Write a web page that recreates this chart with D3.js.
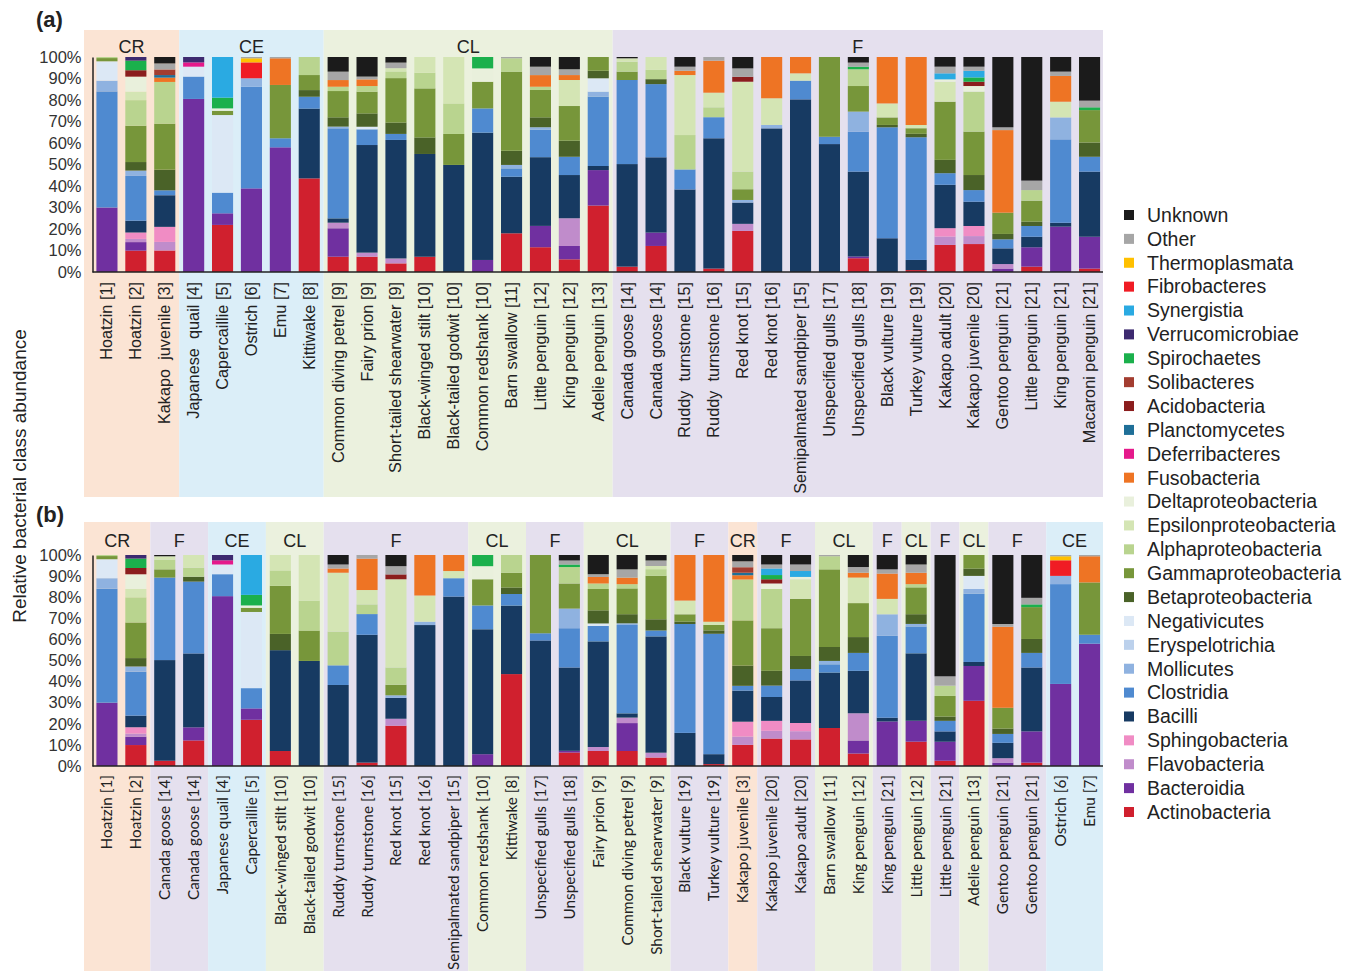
<!DOCTYPE html>
<html>
<head>
<meta charset="utf-8">
<script src="https://cdn.jsdelivr.net/npm/d3@7"></script>
<style>
  body { margin: 0; background: #fff; }
  svg { display: block; }
</style>
</head>
<body>
<svg id="chart" width="1357" height="971"></svg>
<script>
// Bacterial classes, stacked from the bottom of each bar upwards
const classKeys = ["Act","Bac","Fla","Sph","Bcl","Clo","Mol","Ery","Neg","Bet","Gam","Alp","Eps","Del",
                   "Fus","Def","Pla","Aci","Sol","Spi","Ver","Syn","Fib","The","Oth","Unk"];
const classNames = ["Actinobacteria","Bacteroidia","Flavobacteria","Sphingobacteria","Bacilli","Clostridia",
                    "Mollicutes","Eryspelotrichia","Negativicutes","Betaproteobacteria","Gammaproteobacteria",
                    "Alphaproteobacteria","Epsilonproteobacteria","Deltaproteobacteria","Fusobacteria",
                    "Deferribacteres","Planctomycetes","Acidobacteria","Solibacteres","Spirochaetes",
                    "Verrucomicrobiae","Synergistia","Fibrobacteres","Thermoplasmata","Other","Unknown"];
const classColors = ["#d0202e","#7030a0","#c08ccb","#f08cc4","#173a62","#4f8ad0",
                     "#8fb2e0","#bcd1ec","#dce8f5","#4a6228","#77963a",
                     "#b9d48f","#d4e5b4","#e9f0dc","#ee7424",
                     "#e5198b","#1f6f98","#8b1d1d","#a33d30","#1bb04c",
                     "#3d2a70","#2aaae2","#f01c24","#ffc000","#a6a6a6","#1b1b1b"];

// Samples (host species [reference]) and their class composition, in %
const sampleLabels = ["Hoatzin [1]","Hoatzin [2]","Kakapo  juvenile [3]","Japanese  quail [4]","Capercaillie [5]",
  "Ostrich [6]","Emu [7]","Kittiwake [8]","Common diving petrel [9]","Fairy prion [9]",
  "Short-tailed shearwater [9]","Black-winged stilt [10]","Black-tailed godwit [10]","Common redshank [10]",
  "Barn swallow [11]","Little penguin [12]","King penguin [12]","Adelie penguin [13]","Canada goose [14]",
  "Canada goose [14]","Ruddy  turnstone [15]","Ruddy  turnstone [16]","Red knot [15]","Red knot [16]",
  "Semipalmated sandpiper [15]","Unspecified gulls [17]","Unspecified gulls [18]","Black vulture [19]",
  "Turkey vulture [19]","Kakapo adult [20]","Kakapo juvenile [20]","Gentoo penguin [21]",
  "Little penguin [21]","King penguin [21]","Macaroni penguin [21]"];

const sampleValues = [
  {Bac:30, Clo:54, Mol:5, Neg:9, Gam:1.5, Alp:0.5},
  {Act:10, Bac:4, Fla:1.5, Sph:3, Bcl:5.5, Clo:21, Mol:2.5, Bet:4, Gam:17, Alp:12, Eps:4, Del:7, Aci:3, Spi:4.5, Ver:1.7},
  {Act:10, Fla:4, Sph:7, Bcl:14.7, Clo:2.3, Bet:9.6, Gam:21.4, Alp:19.4, Fus:2, Pla:1.2, Sol:2.6, Oth:2.8, Unk:3},
  {Bac:80.5, Clo:10.4, Neg:4.6, Def:2, Ver:2.5},
  {Act:21.9, Bac:5.4, Clo:9.6, Neg:36.1, Gam:2, Del:1.1, Spi:5, Syn:18.9},
  {Bac:38.9, Clo:47.3, Mol:3.9, Fib:7.4, The:1.9, Oth:0.6},
  {Bac:58, Clo:4.2, Gam:24.8, Fus:12.4, Oth:0.6},
  {Act:43.6, Bcl:32.5, Clo:5.5, Bet:3.1, Gam:7, Alp:8.4},
  {Act:7.1, Bac:13.2, Fla:2.6, Bcl:2, Clo:41.8, Mol:0.8, Bet:4.3, Gam:12.2, Alp:2, Fus:3.1, Oth:3.9, Unk:6.8},
  {Act:7.1, Fla:1.9, Bcl:50, Clo:7.3, Neg:1.2, Bet:6.2, Gam:10.1, Alp:2.6, Fus:3.1, Oth:1.3, Unk:9.1},
  {Act:4, Fla:2.3, Bcl:55, Clo:2.8, Bet:5.3, Gam:20.6, Alp:3.1, Eps:1.5, Oth:2.6, Unk:2.6},
  {Act:7.1, Bcl:47.8, Bet:7.7, Gam:22.8, Alp:7.3, Eps:7.3},
  {Bcl:49.8, Gam:14.4, Alp:14.2, Eps:21.6},
  {Bac:5.6, Bcl:59.2, Clo:11.3, Gam:12.4, Del:6.2, Spi:5.3},
  {Act:18, Bcl:26.3, Clo:3.9, Mol:1.6, Bet:6.6, Gam:36.8, Alp:6.2, Oth:0.6},
  {Act:11.5, Bac:9.9, Bcl:31.9, Clo:12.7, Mol:1.2, Bet:4.6, Gam:12.7, Alp:1.5, Fus:5.4, Oth:3.9, Unk:4.5},
  {Act:5.9, Bac:6.2, Fla:12.9, Bcl:20.1, Clo:8.5, Bet:7.5, Gam:16.1, Eps:12.1, Fus:2.3, Oth:2.7, Unk:5.7},
  {Act:30.9, Bac:16.5, Bcl:1.9, Clo:32.3, Mol:2.3, Neg:6.2, Bet:3.5, Gam:6.4},
  {Act:2.5, Bcl:47.7, Clo:39.1, Gam:3.9, Alp:4.6, Eps:1.6, Unk:0.6},
  {Act:12.1, Bac:6.2, Bcl:35, Clo:34, Bet:2.3, Alp:4.3, Eps:6},
  {Bcl:38.4, Clo:9.3, Alp:16, Eps:27.9, Fus:2, Oth:1.9, Unk:4.5},
  {Act:1.6, Bcl:60.6, Clo:9.8, Alp:4.6, Eps:6.8, Fus:14.9, Oth:1.7},
  {Act:19.1, Fla:3.3, Bcl:9.9, Mol:1.2, Gam:5, Alp:8.2, Eps:41.8, Aci:2.3, Oth:3.9, Unk:5.3},
  {Bcl:66.8, Mol:1.6, Eps:12.4, Fus:19.2},
  {Bcl:80.3, Clo:8.7, Eps:3.4, Fus:7.6},
  {Bcl:59.5, Clo:3.4, Gam:37.1},
  {Act:6.4, Bac:0.8, Bcl:39.5, Clo:18.6, Mol:9.3, Gam:11.9, Alp:7.8, Spi:1.2, Oth:1.9, Unk:2.6},
  {Bcl:15.7, Clo:51.6, Bet:1.1, Gam:3.5, Eps:6.5, Fus:21.6},
  {Act:0.9, Bcl:4.7, Clo:57, Bet:1.6, Gam:2.6, Eps:1.5, Fus:31.6},
  {Act:12.6, Fla:3.9, Sph:3.9, Bcl:20.2, Clo:5.4, Bet:6.2, Gam:27.1, Eps:9.3, Del:1.1, Syn:2.8, Oth:3.1, Unk:4.5},
  {Act:13, Fla:3.7, Sph:4.7, Bcl:11.3, Clo:5.4, Bet:7, Gam:20.2, Alp:18.6, Del:2.6, Syn:3.1, Aci:2, Spi:2, Oth:1.9, Unk:4.5},
  {Bac:1.6, Fla:2.1, Bcl:7.3, Clo:4.2, Bet:2.5, Gam:9.9, Fus:38.4, Oth:1.3, Unk:32.7},
  {Act:2.5, Bac:9, Bcl:4.9, Clo:5, Bet:2, Gam:9.8, Alp:4.9, Oth:4.4, Unk:57.5},
  {Bac:21.1, Bcl:1.8, Clo:38.8, Mol:10.2, Eps:7.3, Fus:12, Oth:2, Unk:6.8},
  {Act:1.6, Bac:14.8, Bcl:30.3, Clo:6.9, Bet:6.6, Gam:15.1, Spi:1.3, Oth:3.1, Unk:20.3}
];

// Panel (a): samples by host order; panel (b): samples regrouped by diet
const panelAOrder = d3.range(sampleLabels.length);
const panelAGroups = [["CR",0,2],["CE",3,7],["CL",8,17],["F",18,34]];

const panelBOrder = [0,1,18,19,3,4,11,12,20,21,22,23,24,13,7,25,26,9,8,10,27,28,2,30,29,14,16,33,15,32,17,31,34,5,6];
const panelBLabels = ["Hoatzin [1]","Hoatzin [2]","Canada goose [14]","Canada goose [14]","Japanese quail [4]",
  "Capercaillie [5]","Black-winged stilt [10]","Black-tailed godwit [10]","Ruddy turnstone [15]",
  "Ruddy turnstone [16]","Red knot [15]","Red knot [16]","Semipalmated sandpiper [15]","Common redshank [10]",
  "Kittiwake [8]","Unspecified gulls [17]","Unspecified gulls [18]","Fairy prion [9]","Common diving petrel [9]",
  "Short-tailed shearwater [9]","Black vulture [19]","Turkey vulture [19]","Kakapo juvenile [3]",
  "Kakapo juvenile [20]","Kakapo adult [20]","Barn swallow [11]","King penguin [12]","King penguin [21]",
  "Little penguin [12]","Little penguin [21]","Adelie penguin [13]","Gentoo penguin [21]","Gentoo penguin [21]",
  "Ostrich [6]","Emu [7]"];
const panelBGroups = [["CR",0,1],["F",2,3],["CE",4,5],["CL",6,7],["F",8,12],["CL",13,14],["F",15,16],
  ["CL",17,19],["F",20,21],["CR",22,22],["F",23,24],["CL",25,26],["F",27,27],["CL",28,28],["F",29,29],
  ["CL",30,30],["F",31,32],["CE",33,34]];

const groupFill = {CR:"#fbe4d4", CE:"#dbeef8", CL:"#ebf1de", F:"#e5e0ee"};
const yTickValues = [0,0.1,0.2,0.3,0.4,0.5,0.6,0.7,0.8,0.9,1];

const svg = d3.select("#chart");

const x = d3.scaleBand()
  .domain(d3.range(sampleLabels.length))
  .range([92.5, 1104])
  .paddingInner(0.27)
  .paddingOuter(0.135);

const stack = d3.stack()
  .keys(classKeys)
  .value((d, k) => d[k] || 0)
  .offset(d3.stackOffsetExpand);

function drawPanel(cfg) {
  const g = svg.append("g");
  const rows = cfg.order.map(i => sampleValues[i]);
  const series = stack(rows);
  const y = d3.scaleLinear().domain([0, 1]).range([cfg.base, cfg.top]);
  const half = (x.step() - x.bandwidth()) / 2;

  // diet group backgrounds
  cfg.groups.forEach(([name, a, b], gi) => {
    const x0 = gi === 0 ? 84 : x(a) - half;
    const x1 = gi === cfg.groups.length - 1 ? 1103 : x(b) + x.bandwidth() + half;
    g.append("rect")
      .attr("x", x0).attr("y", cfg.bandTop)
      .attr("width", x1 - x0).attr("height", cfg.bandBottom - cfg.bandTop)
      .attr("fill", groupFill[name]);
    g.append("text")
      .attr("x", (x0 + x1) / 2).attr("y", cfg.groupLabelY)
      .attr("text-anchor", "middle")
      .attr("font-family", "Liberation Sans, Arial, sans-serif")
      .attr("font-size", 18).attr("fill", "#222")
      .text(name);
  });

  // stacked bars
  g.append("g").selectAll("g")
    .data(series)
    .join("g")
      .attr("fill", (s, i) => classColors[i])
    .selectAll("rect")
    .data(s => s.map((d, j) => ({d, j})))
    .join("rect")
      .attr("x", o => x(o.j))
      .attr("width", x.bandwidth())
      .attr("y", o => y(o.d[1]))
      .attr("height", o => Math.max(0, y(o.d[0]) - y(o.d[1])));

  // axes
  const yAxis = g.append("g")
    .attr("transform", `translate(92.5,0)`)
    .call(d3.axisLeft(y).tickValues(yTickValues).tickFormat(d3.format(".0%")).tickSize(0).tickPadding(11));
  yAxis.select(".domain").attr("stroke", "#222").attr("stroke-width", 1.5);
  yAxis.selectAll("text")
    .attr("font-family", "Liberation Sans, Arial, sans-serif")
    .attr("font-size", 16.5).attr("fill", "#333");

  g.append("line")
    .attr("x1", 92.5).attr("x2", 1103)
    .attr("y1", cfg.base).attr("y2", cfg.base)
    .attr("stroke", "#222").attr("stroke-width", 1.5);

  // sample labels
  g.append("g").selectAll("text")
    .data(cfg.labels)
    .join("text")
      .attr("transform", (t, j) => `translate(${x(j) + x.bandwidth() / 2 + 5.5},${cfg.base + cfg.labelGap}) rotate(-90)`)
      .attr("text-anchor", "end")
      .attr("font-family", cfg.labelFont)
      .attr("font-size", cfg.labelSize)
      .attr("fill", "#222")
      .attr("xml:space", "preserve")
      .style("white-space", "pre")
      .text(t => t);

  // panel tag
  svg.append("text")
    .attr("x", 36).attr("y", cfg.tagY)
    .attr("font-family", "Liberation Sans, Arial, sans-serif")
    .attr("font-weight", "bold").attr("font-size", 22).attr("fill", "#222")
    .text(cfg.tag);
}

drawPanel({
  tag: "(a)", tagY: 27,
  order: panelAOrder, labels: panelAOrder.map(i => sampleLabels[i]), groups: panelAGroups,
  top: 57, base: 272, bandTop: 30, bandBottom: 497, groupLabelY: 53,
  labelGap: 10, labelFont: "Liberation Sans, Arial, sans-serif", labelSize: 16.3
});

drawPanel({
  tag: "(b)", tagY: 522,
  order: panelBOrder, labels: panelBLabels, groups: panelBGroups,
  top: 555, base: 766, bandTop: 522, bandBottom: 971, groupLabelY: 547,
  labelGap: 9, labelFont: "Lato, Open Sans, sans-serif", labelSize: 15.3
});

// shared y-axis title
svg.append("text")
  .attr("transform", "translate(26,476) rotate(-90)")
  .attr("text-anchor", "middle")
  .attr("font-family", "Liberation Sans, Arial, sans-serif")
  .attr("font-size", 19).attr("fill", "#222")
  .text("Relative bacterial class abundance");

// legend (top entry = top of the stack)
const legendItems = classNames.map((n, i) => ({name: n, color: classColors[i]})).reverse();
const legend = svg.append("g").attr("transform", "translate(1124,215)");
legend.selectAll("g")
  .data(legendItems)
  .join("g")
    .attr("transform", (d, i) => `translate(0,${i * 23.88})`)
    .call(s => {
      s.append("rect").attr("x", 0).attr("y", -5).attr("width", 10).attr("height", 10)
        .attr("fill", d => d.color);
      s.append("text").attr("x", 23).attr("y", 0).attr("dy", "0.35em")
        .attr("font-family", "Liberation Sans, Arial, sans-serif")
        .attr("font-size", 19.5).attr("fill", "#222")
        .text(d => d.name);
    });
</script>
</body>
</html>
